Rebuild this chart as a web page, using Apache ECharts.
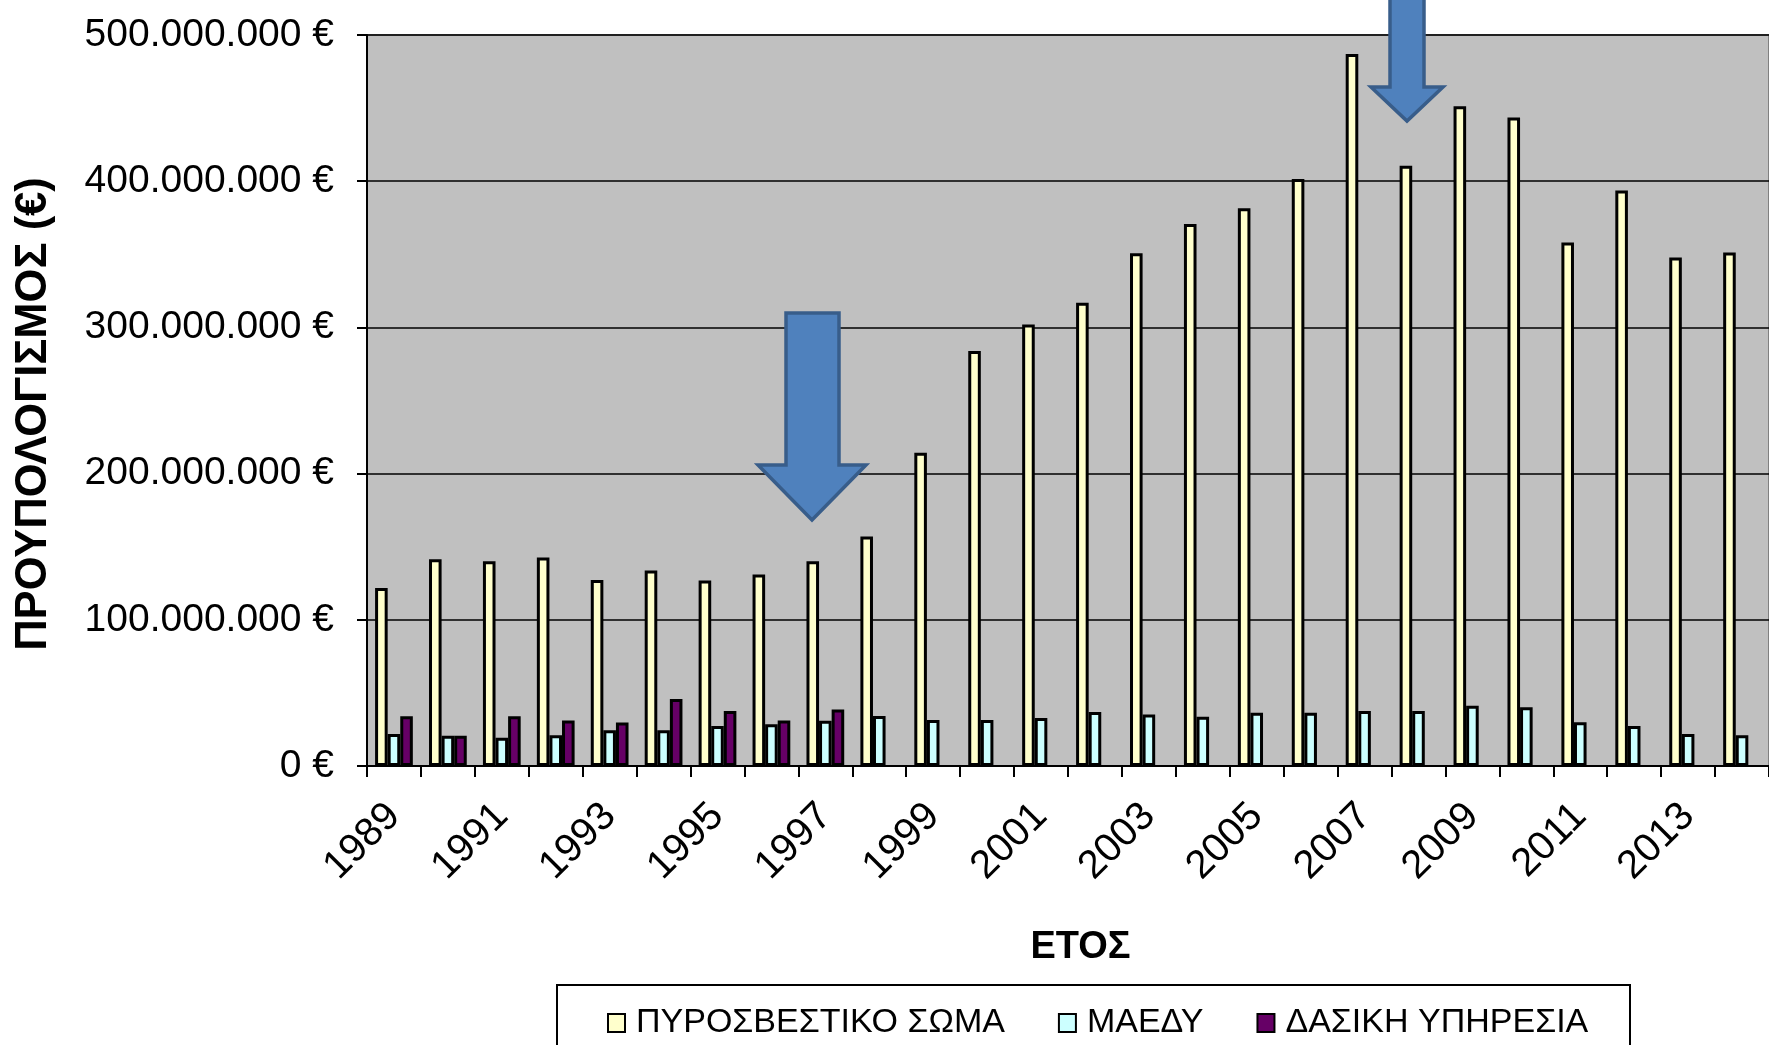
<!DOCTYPE html>
<html>
<head>
<meta charset="utf-8">
<script src="https://cdn.jsdelivr.net/npm/echarts@6/dist/echarts.min.js"></script>
<style>
html,body{margin:0;padding:0;background:#fff;}
#chart{width:1769px;height:1045px;}
</style>
</head>
<body>
<div id="chart"></div>
<script>
const years = ['1989','1990','1991','1992','1993','1994','1995','1996','1997','1998','1999','2000','2001','2002','2003','2004','2005','2006','2007','2008','2009','2010','2011','2012','2013','2014'];
const seriesNames = ['ΠΥΡΟΣΒΕΣΤΙΚΟ ΣΩΜΑ','ΜΑΕΔΥ','ΔΑΣΙΚΗ ΥΠΗΡΕΣΙΑ'];
// values in millions of euro
const pyrosvestiko = [121.7,141.5,140,142.6,127.2,133.7,126.8,131,140,157,214.2,283.9,301.9,316.8,350.8,370.7,381.5,401.5,487,410.5,451.3,443.5,358,393.6,347.8,351.2];
const maedy = [21.9,20.7,19.4,21,24.4,24.4,27.3,28.5,31,34.2,31.4,31.4,32.8,36.9,35.3,33.7,36.4,36.4,37.6,37.6,41.2,40.1,29.9,27.3,21.9,21];
const dasiki = [34,20.7,34,31.2,29.8,45.8,37.6,31.2,38.7,null,null,null,null,null,null,null,null,null,null,null,null,null,null,null,null,null];
const yTicks = {min:0, max:500000000, interval:100000000};
const colors = ['#FFFFCC','#CCFFFF','#660066'];

const M = v => v == null ? null : Math.round(v * 1e6);
const FONT = "'Liberation Sans', Arial, sans-serif";
function fmt(v){ return String(v).replace(/\B(?=(\d{3})+(?!\d))/g,'.') + ' €'; }

const chart = echarts.init(document.getElementById('chart'));
const dataSets = [pyrosvestiko, maedy, dasiki];
chart.setOption({
  animation:false,
  backgroundColor:'#ffffff',
  textStyle:{fontFamily:FONT},
  grid:{left:367, top:35, width:1414, height:731, show:true, backgroundColor:'#C0C0C0', borderColor:'#808080', borderWidth:2},
  legend:{
    data:seriesNames, left:607, top:1003, padding:0, itemGap:53, itemWidth:17, itemHeight:18, icon:'rect',
    textStyle:{fontFamily:FONT, fontSize:34, color:'#000', lineHeight:40, padding:[0,0,0,6]}
  },
  xAxis:{
    type:'category', data:years, boundaryGap:true,
    axisLine:{lineStyle:{color:'#000', width:2}},
    axisTick:{show:true, interval:0, length:11, lineStyle:{color:'#000', width:2}},
    axisLabel:{interval:1, rotate:45, margin:44, fontSize:40, color:'#000', fontFamily:FONT},
    name:'ΕΤΟΣ', nameLocation:'middle', nameGap:163,
    nameTextStyle:{fontSize:38, fontWeight:'bold', color:'#000', fontFamily:FONT, padding:[0,0,0,25]}
  },
  yAxis:{
    type:'value', min:yTicks.min, max:yTicks.max, interval:yTicks.interval,
    axisLine:{show:true, lineStyle:{color:'#000', width:2}},
    axisTick:{show:true, length:10, lineStyle:{color:'#000', width:2}},
    splitLine:{show:true, lineStyle:{color:'#000', width:1.5}},
    axisLabel:{formatter:fmt, fontSize:39, margin:33, color:'#000', fontFamily:FONT},
    name:'ΠΡΟΥΠΟΛΟΓΙΣΜΟΣ (€)', nameLocation:'middle', nameRotate:90, nameGap:311,
    nameTextStyle:{fontSize:43.5, fontWeight:'bold', color:'#000', fontFamily:FONT, padding:[0,27,0,0]}
  },
  series: seriesNames.map((n,i)=>({
    name:n, type:'bar', data:dataSets[i].map(M),
    barGap:'0%', barCategoryGap:'30%',
    itemStyle:{color:colors[i], borderColor:'#000', borderWidth:3}
  })),
  graphic:[
    {type:'rect', z:50, shape:{x:557, y:985, width:1073, height:120}, style:{fill:'none', stroke:'#000', lineWidth:2}},
    {type:'polygon', z:100, shape:{points:[[786,313],[839,313],[839,465],[866,465],[812,520],[758,465],[786,465]]}, style:{fill:'#4F81BD', stroke:'#385D8A', lineWidth:3.5}},
    {type:'polygon', z:100, shape:{points:[[1390,-10],[1424,-10],[1424,87],[1443,87],[1407,121],[1371,87],[1390,87]]}, style:{fill:'#4F81BD', stroke:'#385D8A', lineWidth:3.5}}
  ]
});
</script>
</body>
</html>
